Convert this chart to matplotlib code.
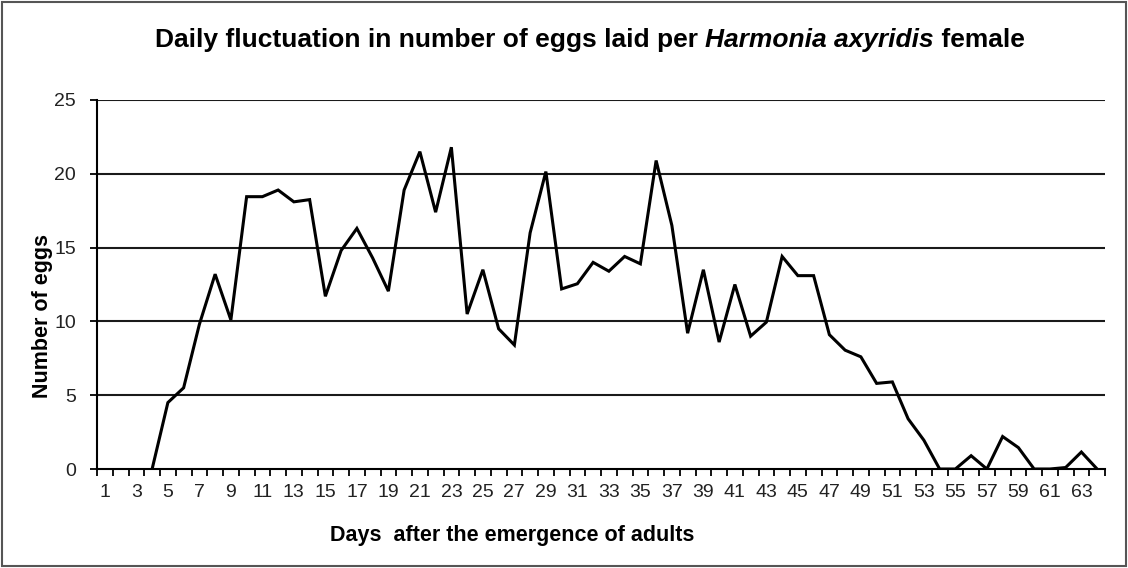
import numpy as np
import matplotlib
matplotlib.use("Agg")
import matplotlib.pyplot as plt
from matplotlib.patches import Rectangle
from matplotlib import font_manager

days = list(range(1, 65))
eggs = [np.nan, np.nan, np.nan, 0.0, 4.5, 5.5, 9.8, 13.2, 10.1, 18.45,
        18.45, 18.9, 18.1, 18.25, 11.7, 14.8, 16.3, 14.3, 12.05, 18.9,
        21.5, 17.4, 21.8, 10.5, 13.5, 9.5, 8.4, 16.0, 20.15, 12.2,
        12.55, 14.0, 13.4, 14.4, 13.9, 20.9, 16.5, 9.2, 13.5, 8.6,
        12.5, 9.0, 9.95, 14.4, 13.1, 13.1, 9.1, 8.05, 7.6, 5.8,
        5.9, 3.4, 1.95, 0.0, 0.0, 0.9, 0.0, 2.2, 1.45, 0.0,
        0.0, 0.1, 1.15, 0.0]
yticks = [0, 5, 10, 15, 20, 25]
xlabels = [str(d) for d in range(1, 64, 2)]

title_parts = [("Daily fluctuation in number of eggs laid per ", "normal"),
               ("Harmonia axyridis", "italic"),
               (" female", "normal")]
xlabel = "Days  after the emergence of adults"
ylabel = "Number of eggs"

plt.rcParams['font.family'] = ['Liberation Sans', 'DejaVu Sans']

installed = {f.name for f in font_manager.fontManager.ttflist}
if 'Liberation Sans Narrow' in installed:
    tick_font = dict(family='Liberation Sans Narrow', size=15.5)
else:
    tick_font = dict(family='Liberation Sans', size=14)

W, H = 1128, 568
fig = plt.figure(figsize=(W / 100, H / 100), dpi=100)
ax = fig.add_axes([97 / W, 1 - 469 / H, (1105 - 97) / W, (469 - 100) / H])

ax.plot(days, eggs, color='black', lw=2.2, solid_joinstyle='miter', zorder=3)

ax.set_xlim(0.5, 64.5)
ax.set_ylim(0, 25)
ax.set_yticks(yticks)
ax.set_yticklabels([str(v) for v in yticks], fontdict=tick_font, color='#222222')
for y in yticks[1:]:
    ax.axhline(y, color='#1a1a1a', lw=1.5, zorder=1)

ax.set_xticks(np.arange(0.5, 65, 1.0))
ax.set_xticklabels([])
ax.set_xticks(range(1, 64, 2), minor=True)
ax.set_xticklabels(xlabels, minor=True, fontdict=tick_font, color='#222222')
ax.tick_params(axis='x', which='major', direction='out', length=5, width=1.3, color='black')
ax.tick_params(axis='x', which='minor', length=0, pad=11)
ax.tick_params(axis='y', direction='out', length=5, width=1.3, pad=10)

for s in ['top', 'right']:
    ax.spines[s].set_visible(False)
for s in ['left', 'bottom']:
    ax.spines[s].set_linewidth(1.5)
    ax.spines[s].set_color('black')

fig.text(512 / W, 1 - 535 / H, xlabel, ha='center', va='center',
         fontsize=15.5, fontweight='bold')
fig.text(43 / W, 1 - 316 / H, ylabel, ha='center', va='center',
         rotation=90, fontsize=15.5, fontweight='bold')

# title with italic species name
fig.canvas.draw()
renderer = fig.canvas.get_renderer()
texts = []
for s, style in title_parts:
    t = fig.text(0, 1 - 40 / H, s, fontsize=19, fontweight='bold',
                 fontstyle=style, ha='left', va='center')
    texts.append(t)
widths = [t.get_window_extent(renderer).width for t in texts]
total = sum(widths)
x0 = 590 - total / 2
for t, w in zip(texts, widths):
    t.set_x(x0 / W)
    x0 += w

fig.patches.append(Rectangle((2 / W, 2 / H), 1 - 4 / W, 1 - 4 / H,
                             transform=fig.transFigure, fill=False,
                             edgecolor='#555555', lw=1.5))

fig.savefig('out.png', dpi=100)
